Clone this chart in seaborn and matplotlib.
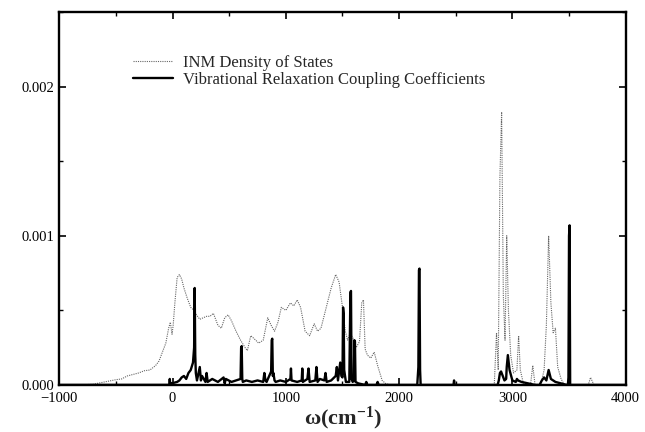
"""
INM density of states vs vibrational relaxation coupling coefficients.
"""

import matplotlib.pyplot as plt
import numpy as np
import pandas as pd
import seaborn as sns
from matplotlib.ticker import MultipleLocator

sns.set_theme(style="ticks")
plt.rcParams["font.family"] = ["Liberation Serif", "DejaVu Serif"]
plt.rcParams["mathtext.fontset"] = "custom"
plt.rcParams["mathtext.rm"] = "Liberation Serif:bold"
plt.rcParams["mathtext.it"] = "Liberation Serif:bold"
plt.rcParams["mathtext.bf"] = "Liberation Serif:bold"

# INM density of states (dotted curve), values in 1e-4
dos_freq = [-1000, -800, -700, -600, -500, -450, -400, -350, -300, -250,
            -200, -150, -120, -90, -60, -35, -20, -5, 5, 20,
            40, 60, 80, 100, 130, 160, 190, 210, 240, 270,
            300, 330, 360, 400, 430, 460, 490, 520, 560, 600,
            640, 660, 690, 720, 760, 800, 840, 870, 900, 930,
            960, 1000, 1040, 1070, 1100, 1130, 1170, 1210, 1250, 1280,
            1310, 1350, 1400, 1440, 1470, 1500, 1525, 1545, 1565, 1590,
            1620, 1650, 1670, 1685, 1700, 1720, 1750, 1780, 1810, 1850,
            1880, 1920, 2800, 2840, 2860, 2875, 2890, 2905, 2920, 2935,
            2950, 2965, 2985, 3010, 3040, 3055, 3070, 3100, 3160, 3180,
            3200, 3250, 3280, 3300, 3320, 3340, 3360, 3380, 3400, 3430,
            3460, 3650, 3670, 3690, 3720, 4000]
dos_val = [0.0, 0.0, 0.05, 0.2, 0.35, 0.4, 0.6, 0.7, 0.8, 0.95,
           1.0, 1.3, 1.6, 2.2, 2.8, 3.8, 4.2, 3.4, 4.0, 5.5,
           7.2, 7.4, 7.1, 6.5, 5.8, 5.2, 5.0, 4.7, 4.4, 4.5,
           4.6, 4.6, 4.8, 4.0, 3.8, 4.5, 4.7, 4.3, 3.6, 3.0,
           2.5, 2.3, 3.3, 3.1, 2.8, 3.0, 4.5, 4.0, 3.6, 4.2,
           5.2, 5.0, 5.5, 5.3, 5.7, 5.2, 3.6, 3.3, 4.1, 3.6,
           3.8, 5.0, 6.5, 7.4, 6.9, 5.2, 3.6, 3.0, 3.4, 3.2,
           2.5, 2.9, 5.5, 5.7, 2.4, 2.0, 1.8, 2.2, 1.3, 0.3,
           0.1, 0.0, 0.0, 0.0, 3.5, 1.0, 14.0, 18.3, 6.0, 3.0,
           10.0, 5.0, 2.0, 0.8, 1.0, 3.3, 1.0, 0.0, 0.0, 1.3,
           0.0, 0.0, 1.0, 4.0, 10.0, 5.5, 3.5, 3.8, 1.2, 0.4,
           0.0, 0.0, 0.0, 0.5, 0.0, 0.0]

# vibrational relaxation coupling coefficients (solid spikes), values in 1e-4
cpl_freq = [-1000, -30, -25, -20, -10, 40, 60, 80, 100, 120,
            140, 160, 180, 190, 195, 200, 205, 215, 240, 250,
            260, 290, 300, 310, 350, 400, 450, 460, 470, 520,
            560, 600, 605, 610, 615, 620, 650, 700, 750, 800,
            810, 820, 830, 870, 875, 880, 885, 890, 900, 910,
            950, 1000, 1040, 1045, 1050, 1100, 1140, 1145, 1150, 1190,
            1200, 1210, 1260, 1270, 1280, 1300, 1340, 1350, 1360, 1400,
            1440, 1450, 1460, 1480, 1490, 1500, 1505, 1510, 1515, 1530,
            1560, 1570, 1575, 1580, 1590, 1600, 1605, 1610, 1615, 1640,
            1700, 1710, 1720, 1800, 1810, 1820, 1900, 2160, 2170, 2175,
            2180, 2185, 2190, 2480, 2485, 2490, 2850, 2870, 2880, 2890,
            2900, 2930, 2945, 2950, 2960, 2975, 3000, 3030, 3040, 3050,
            3080, 3200, 3240, 3260, 3280, 3300, 3320, 3340, 3380, 3480,
            3490, 3495, 3500, 3505, 3510, 3600, 4000]
cpl_val = [0.0, 0.0, 0.4, 0.0, 0.1, 0.2, 0.3, 0.5, 0.6, 0.4,
           0.8, 1.0, 1.5, 2.5, 6.5, 2.0, 0.8, 0.3, 1.2, 0.3,
           0.6, 0.2, 0.8, 0.2, 0.4, 0.2, 0.5, 0.1, 0.4, 0.2,
           0.3, 0.4, 2.5, 2.6, 0.4, 0.2, 0.3, 0.2, 0.3, 0.2,
           0.8, 0.3, 0.2, 0.9, 3.0, 3.1, 0.6, 0.8, 0.3, 0.2,
           0.3, 0.2, 0.4, 1.1, 0.3, 0.2, 0.3, 1.1, 0.2, 0.4,
           1.1, 0.2, 0.3, 1.2, 0.2, 0.4, 0.3, 0.8, 0.2, 0.3,
           0.6, 1.2, 0.3, 1.5, 0.6, 0.5, 5.2, 4.8, 1.0, 0.2,
           0.2, 6.2, 6.3, 0.4, 0.2, 0.3, 3.0, 2.9, 0.2, 0.1,
           0.0, 0.2, 0.0, 0.0, 0.2, 0.0, 0.0, 0.0, 1.2, 7.7,
           7.8, 1.0, 0.0, 0.0, 0.3, 0.0, 0.0, 0.0, 0.3, 0.8,
           0.9, 0.3, 0.4, 1.2, 2.0, 1.0, 0.3, 0.2, 0.4, 0.3,
           0.2, 0.0, 0.0, 0.3, 0.5, 0.3, 1.0, 0.4, 0.2, 0.0,
           0.0, 0.5, 10.0, 10.7, 0.0, 0.0, 0.0]

dos = pd.DataFrame({"w": dos_freq, "g": np.array(dos_val) * 1e-4})
cpl = pd.DataFrame({"w": cpl_freq, "g": np.array(cpl_val) * 1e-4})

fig = plt.figure(figsize=(6.45, 4.32), dpi=100)
ax = fig.add_axes([0.092, 0.109, 0.878, 0.863])

sns.lineplot(data=dos, x="w", y="g", ax=ax, sort=False, color="#666666",
             linewidth=0.8, linestyle=(0, (1, 1)), label="INM Density of States")
sns.lineplot(data=cpl, x="w", y="g", ax=ax, sort=False, color="black",
             linewidth=1.7, label="Vibrational Relaxation Coupling Coefficients")

ax.set_xlim(-1000, 4000)
ax.set_ylim(0, 0.0025)
ax.xaxis.set_major_locator(MultipleLocator(1000))
ax.xaxis.set_minor_locator(MultipleLocator(500))
ax.yaxis.set_major_locator(MultipleLocator(0.001))
ax.yaxis.set_minor_locator(MultipleLocator(0.0005))
ax.yaxis.set_major_formatter(plt.FuncFormatter(lambda v, p: f"{v:.3f}"))
ax.xaxis.set_major_formatter(plt.FuncFormatter(lambda v, p: f"{v:.0f}".replace("-", "\u2212")))
ax.tick_params(which="both", direction="in", top=True, right=True,
               labelsize=10.5, colors="black")
ax.tick_params(which="major", length=5, width=1.2)
ax.tick_params(which="minor", length=3, width=1)
ax.tick_params(axis="x", which="major", pad=5)
for s in ax.spines.values():
    s.set_linewidth(1.7)
    s.set_color("black")

ax.set_xlabel("ω(cm$^{-1}$)", fontsize=16, fontweight="bold", labelpad=0)
ax.set_ylabel("")
ax.legend(loc="upper left", bbox_to_anchor=(0.13, 0.885), frameon=False,
          fontsize=12, handlelength=2.4, handletextpad=0.6, labelspacing=0.05,
          borderpad=0, borderaxespad=0)

plt.savefig("out.png", dpi=100)
plt.close()
